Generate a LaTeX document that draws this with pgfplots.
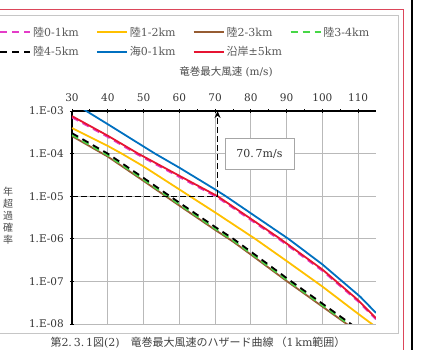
\documentclass[border=0pt]{standalone}
\usepackage{pgfplots}
\pgfplotsset{compat=1.18}
\usetikzlibrary{arrows.meta}
\usepackage{fontspec}
\setmainfont{DejaVu Serif}
\newfontfamily\jp{Noto Sans CJK JP}
\definecolor{cmag}{RGB}{228,60,200}
\definecolor{cyel}{RGB}{255,192,0}
\definecolor{cbrn}{RGB}{150,92,50}
\definecolor{cgrn}{RGB}{70,215,70}
\definecolor{cblu}{RGB}{0,112,192}
\definecolor{cred}{RGB}{230,20,50}
\definecolor{cframe}{RGB}{220,70,90}
\begin{document}
\begin{tikzpicture}
\useasboundingbox (0pt,0pt) rectangle (429pt,350pt);
\clip (0pt,0pt) rectangle (429pt,350pt);
% page decorations
\draw[gray!45, line width=0.8pt] (-5pt,335pt) -- (398pt,335pt) -- (398pt,17pt) -- (-5pt,17pt);
\draw[cframe, line width=0.8pt] (-5pt,341pt) -- (403pt,341pt) -- (403pt,-5pt);
\draw[black, line width=2.2pt] (412pt,-5pt) -- (412pt,355pt);
\begin{axis}[
  at={(72pt,26pt)}, anchor=south west,
  width=304pt, height=213pt, scale only axis,
  xmin=30, xmax=115, ymin=1e-8, ymax=1e-3, ymode=log,
  axis x line*=top, axis y line*=left,
  axis line style={line width=1.4pt, black},
  xtick={30,40,...,110}, minor xtick={35,45,...,105},
  ytick={1e-8,1e-7,1e-6,1e-5,1e-4,1e-3},
  yticklabels={1.E-08,1.E-07,1.E-06,1.E-05,1.E-04,1.E-03},
  yminorticks=false,
  grid=major, major grid style={gray!55, line width=0.7pt},
  tick align=center, major tick length=4pt, minor tick length=3pt,
  tick style={black, line width=0.8pt},
  /pgf/number format/assume math mode=true,
  ticklabel style={font=\fontsize{10.5}{12}\selectfont, text=black!80},
  yticklabel style={inner sep=0pt, anchor=east, xshift=-6pt},
  xticklabel style={inner sep=0pt, anchor=south, yshift=7pt},
  legend columns=4,
  legend style={at={(-0.24,1.405)}, anchor=north west, draw=none, fill=none,
    inner sep=0pt, row sep=5pt, font=\fontsize{11}{12}\selectfont, text=black!65},
  legend cell align=left,
  legend image code/.code={\draw[#1] (0pt,0pt) -- (30pt,0pt);},
  every axis plot/.append style={line width=1.8pt},
]
\addplot[cmag, dash pattern=on 7pt off 5pt] coordinates {
(30,7.08e-4) (40,2.455e-4) (48.5,9.33e-5) (60,2.818e-5) (70.7,9.33e-6) (80,2.754e-6) (88.2,9.33e-7) (100,1.778e-7) (110,3.388e-8) (115,1.288e-8)};
\addlegendentry{\makebox[61pt][l]{{\jp 陸}0-1km}}
\addplot[cyel] coordinates {
(30,3.98e-4) (40,1.514e-4) (43.9,1e-4) (50,5.01e-5) (60,1.445e-5) (70,4.17e-6) (81.2,1e-6) (90,3.02e-7) (100,7.59e-8) (110,1.738e-8) (115,8.5e-9)};
\addlegendentry{\makebox[61pt][l]{{\jp 陸}1-2km}}
\addplot[cbrn] coordinates {
(30,2.57e-4) (40,8.51e-5) (50,2.29e-5) (57.4,8.51e-6) (60,6.03e-6) (70,1.622e-6) (75.1,8.51e-7) (80,4.27e-7) (90,1.023e-7) (100,2.57e-8) (108,8.51e-9) (110,6.31e-9)};
\addlegendentry{\makebox[61pt][l]{{\jp 陸}2-3km}}
\addplot[cgrn, dash pattern=on 7pt off 5pt] coordinates {
(30,2.754e-4) (40,9.12e-5) (50,2.455e-5) (57.4,9.12e-6) (60,6.46e-6) (70,1.738e-6) (75.1,9.12e-7) (80,4.57e-7) (90,1.096e-7) (100,2.754e-8) (108,9.12e-9) (110,6.76e-9)};
\addlegendentry{\makebox[61pt][l]{{\jp 陸}3-4km}}
\addplot[black, dash pattern=on 7pt off 5pt] coordinates {
(30,3.02e-4) (40,1e-4) (50,2.69e-5) (57.4,1e-5) (60,7.08e-6) (70,1.905e-6) (75.1,1e-6) (80,5.01e-7) (90,1.202e-7) (100,3.02e-8) (108,1e-8) (110,7.41e-9)};
\addlegendentry{\makebox[61pt][l]{{\jp 陸}4-5km}}
\addplot[cblu] coordinates {
(30,1.66e-3) (34,1e-3) (40,4.90e-4) (53.2,1e-4) (60,4.68e-5) (70,1.445e-5) (73,1e-5) (80,3.98e-6) (90.5,1e-6) (100,2.512e-7) (110.6,4.365e-8) (115,1.82e-8)};
\addlegendentry{\makebox[61pt][l]{{\jp 海}0-1km}}
\addplot[cred] coordinates {
(30,7.59e-4) (40,2.63e-4) (48.5,1e-4) (60,3.02e-5) (70.7,1e-5) (80,2.95e-6) (88.2,1e-6) (100,1.905e-7) (110,3.63e-8) (115,1.38e-8)};
\addlegendentry{\makebox[61pt][l]{{\jp 沿岸}±5km}}
% annotation lines
\addplot[forget plot, black, line width=1.1pt, dash pattern=on 6pt off 3pt] coordinates {(30,1e-5) (70.7,1e-5)};
\addplot[forget plot, black, line width=1.1pt, dash pattern=on 6pt off 3pt, -{Stealth[length=7pt,width=6pt]}] coordinates {(70.7,1e-5) (70.7,1e-3)};
\node[draw=gray!70, fill=white, line width=0.7pt, minimum width=69pt, minimum height=31pt, inner sep=0pt,
  font=\fontsize{11}{12}\selectfont, text=black!80] at (axis cs:82.4,1e-4) {70.\,7m/s};
\end{axis}
% axis title (top)
\node[font=\fontsize{10.5}{12}\selectfont, text=black!70] at (226pt,278pt) {{\jp 竜巻最大風速} (m/s)};
% y label, stacked vertically
\node[font=\fontsize{10}{12}\selectfont, text=black!70, align=center] at (8pt,134pt)
  {{\jp 年}\\{\jp 超}\\{\jp 過}\\{\jp 確}\\{\jp 率}};
% caption
\node[font=\fontsize{11}{12}\selectfont, text=black!75] at (198pt,7pt)
  {{\jp 第}2.\,3.\,1{\jp 図}(2)\quad{\jp 竜巻最大風速のハザード曲線\,（}1\,km{\jp 範囲）}};
\end{tikzpicture}
\end{document}
